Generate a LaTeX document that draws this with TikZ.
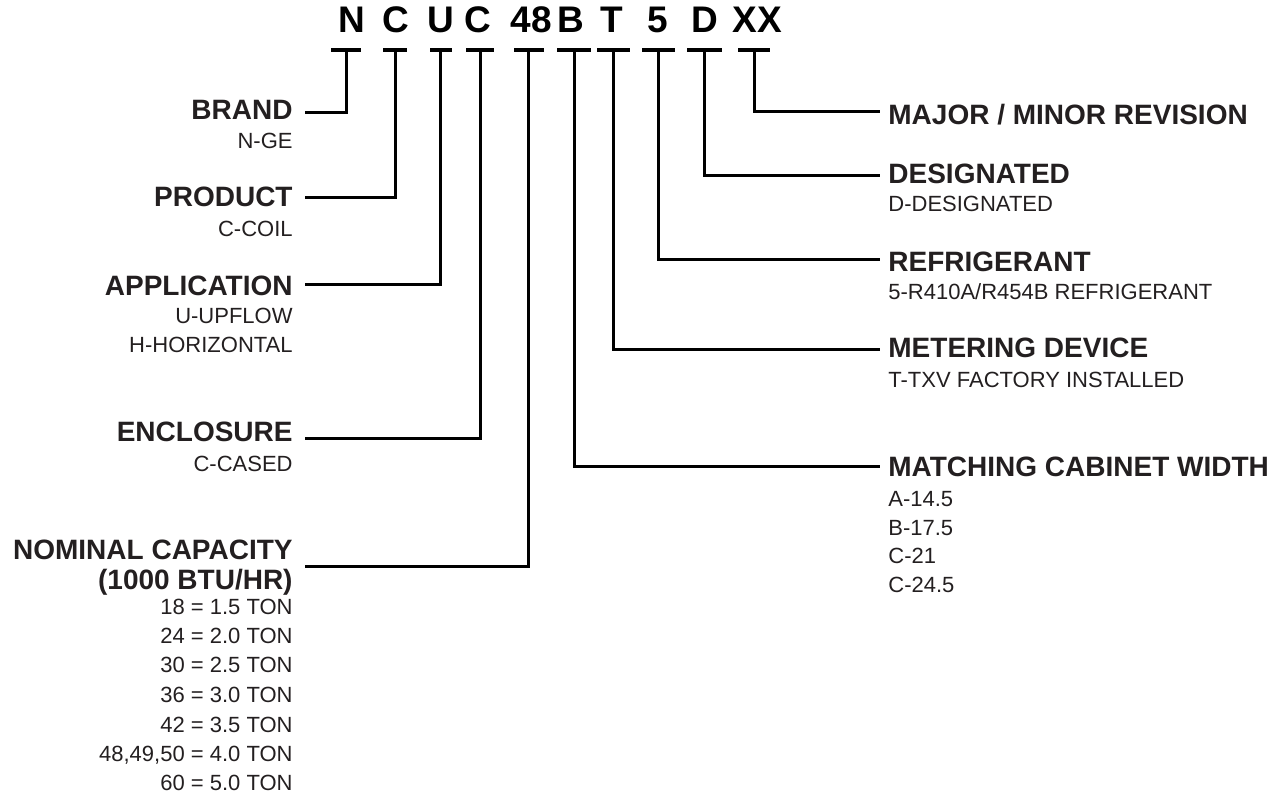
\documentclass[tikz,border=0pt]{standalone}
\usepackage{fontspec}
\setmainfont{Liberation Sans}

\definecolor{ink}{RGB}{35,31,32}

\begin{document}
\begin{tikzpicture}[
    x=0.5pt, y=-0.5pt,
    code/.style={font=\fontsize{18.5}{20}\selectfont\bfseries, text=black, inner sep=0pt, anchor=base},
    bar/.style={fill=black, inner sep=0pt, minimum height=2pt},
    wire/.style={draw=black, line width=1.5pt},
    head/.style={font=\fontsize{14}{16}\selectfont\bfseries, text=ink, inner sep=0pt},
    sub/.style={font=\fontsize{11}{13}\selectfont, text=ink, inner sep=0pt}
]

\useasboundingbox (0,0) rectangle (1285,801);

% ==========================
% CODIGO DEL MODELO
% ==========================
\foreach \i/\ch/\lx/\bx/\w in {
    1/N/352/346/15pt, 2/C/396/395/12pt, 3/U/441/440.5/11pt, 4/C/478/480/14pt,
    5/48/531/528.5/15pt, 6/B/571/574/17pt, 7/T/612/613/16.5pt, 8/5/658/658/16.5pt,
    9/D/705/704/17.5pt, 10/XX/757/754/16pt
} {
    \node[code] (L-\i) at (\lx, 33) {\ch};
    \node[bar, minimum width=\w] (T-\i) at (\bx, 50) {};
}

% ==========================
% ETIQUETAS IZQUIERDA
% ==========================
\foreach \name/\txt/\y/\ly in {
    brand/BRAND/120/113, product/PRODUCT/207/198, application/APPLICATION/296/285,
    enclosure/ENCLOSURE/442/439, capacity/NOMINAL CAPACITY/560/567
} {
    \node[head, anchor=base east] (\name) at (293, \y) {\txt};
    \coordinate (\name-end) at (305, \ly);
}
\node[head, anchor=base east] (capacity-2) at (293, 590) {(1000 BTU/HR)};

\foreach \j/\txt/\y in {
    1/N-GE/149, 2/C-COIL/237, 3/U-UPFLOW/324, 4/H-HORIZONTAL/353, 5/C-CASED/472,
    6/18 = 1.5 TON/615, 7/24 = 2.0 TON/644, 8/30 = 2.5 TON/673, 9/36 = 3.0 TON/703,
    10/42 = 3.5 TON/732, 11/{48,49,50 = 4.0 TON}/761, 12/60 = 5.0 TON/790
} {
    \node[sub, anchor=base east] (left-\j) at (293, \y) {\txt};
}

% ==========================
% ETIQUETAS DERECHA
% ==========================
\foreach \name/\txt/\y/\ly in {
    revision/{MAJOR / MINOR REVISION}/125/112, designated/DESIGNATED/184/176,
    refrigerant/REFRIGERANT/272/260, metering/METERING DEVICE/358/350,
    cabinet/MATCHING CABINET WIDTH/477/467
} {
    \node[head, anchor=base west] (\name) at (888, \y) {\txt};
    \coordinate (\name-end) at (880, \ly);
}

\foreach \j/\txt/\y in {
    1/D-DESIGNATED/212, 2/{5-R410A/R454B REFRIGERANT}/300, 3/T-TXV FACTORY INSTALLED/388,
    4/A-14.5/507, 5/B-17.5/536, 6/C-21/564, 7/C-24.5/593
} {
    \node[sub, anchor=base west] (right-\j) at (888, \y) {\txt};
}

% ==========================
% CONEXIONES
% ==========================
\foreach \i/\name in {1/brand, 2/product, 3/application, 4/enclosure, 5/capacity,
    6/cabinet, 7/metering, 8/refrigerant, 9/designated, 10/revision} {
    \draw[wire] (T-\i.center) |- (\name-end);
}

\end{tikzpicture}
\end{document}
